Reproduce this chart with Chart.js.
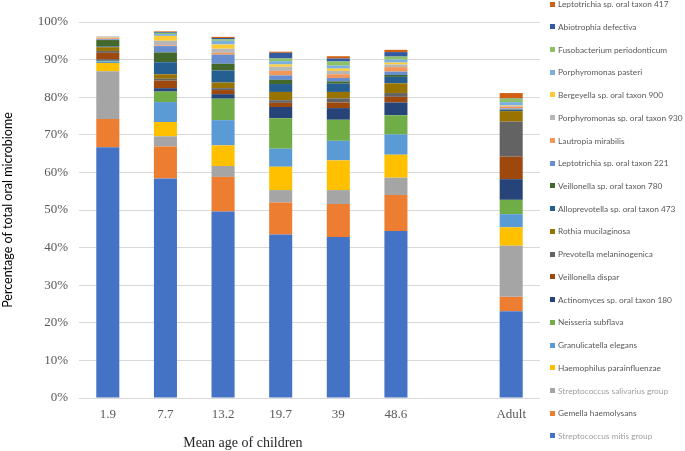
<!DOCTYPE html>
<html>
<head>
<meta charset="utf-8">
<script src="https://cdn.jsdelivr.net/npm/chart.js@4.4.0/dist/chart.umd.min.js"></script>
<style>
    body { margin: 0; background: #fff; }
    #wrap { position: relative; width: 685px; height: 451px; }
    #legend { position: absolute; left: 550px; top: -6.9px; font-family: Lato, sans-serif; font-size: 8.3px; }
    .item { height: 22.74px; line-height: 22.74px; white-space: nowrap; }
    .box { display: inline-block; width: 5px; height: 5px; margin-right: 3px; vertical-align: middle; position: relative; top: -1px; }
</style>
</head>
<body>
<div id="wrap">
    <canvas id="chart"></canvas>
    <div id="legend"></div>
</div>
<script>
// Categories (x axis), the blank one is the gap before Adult
const categories = ['1.9', '7.7', '13.2', '19.7', '39', '48.6', '', 'Adult'];

// Species, bottom of stack to top
const species = [
    'Streptococcus mitis group', 'Gemella haemolysans', 'Streptococcus salivarius group',
    'Haemophilus parainfluenzae', 'Granulicatella elegans', 'Neisseria subflava',
    'Actinomyces sp. oral taxon 180', 'Veillonella dispar', 'Prevotella melaninogenica',
    'Rothia mucilaginosa', 'Alloprevotella sp. oral taxon 473', 'Veillonella sp. oral taxon 780',
    'Leptotrichia sp. oral taxon 221', 'Lautropia mirabilis', 'Porphyromonas sp. oral taxon 930',
    'Bergeyella sp. oral taxon 900', 'Porphyromonas pasteri', 'Fusobacterium periodonticum',
    'Abiotrophia defectiva', 'Leptotrichia sp. oral taxon 417'
];

// Percentages per group, same order as species
const age1_9  = [66.7, 7.5, 12.7, 2.2, 0.4, 0.2, 0.3, 1.8, 0.5, 1.0, 0.2, 1.7, 0.2, 0.3, 0.1, 0.1, 0.05, 0.05, 0.05, 0.05];
const age7_7  = [58.4, 8.5, 2.7, 3.8, 5.3, 2.8, 0.9, 2.0, 0.5, 1.2, 3.2, 2.6, 1.7, 0.2, 1.2, 1.3, 0.5, 0.3, 0.2, 0.2];
const age13_2 = [49.6, 9.2, 2.9, 5.5, 6.7, 5.7, 1.2, 1.1, 0.5, 1.5, 3.2, 1.8, 2.4, 0.5, 1.1, 1.1, 1.0, 0.4, 0.35, 0.3];
const age19_7 = [43.5, 8.5, 3.3, 6.2, 4.8, 8.1, 3.0, 1.1, 0.7, 2.2, 2.1, 1.1, 1.2, 1.2, 1.1, 0.6, 0.9, 0.7, 1.5, 0.3];
const age39   = [42.8, 8.8, 3.7, 7.9, 5.2, 5.6, 3.1, 1.5, 1.1, 1.7, 2.2, 0.6, 0.9, 1.0, 0.9, 0.6, 0.8, 1.1, 0.8, 0.6];
const age48_6 = [44.4, 9.6, 4.6, 6.1, 5.4, 5.1, 3.4, 1.5, 1.0, 2.6, 1.7, 0.5, 0.9, 1.2, 0.7, 0.5, 0.8, 0.8, 1.2, 0.6];
const adult   = [23.1, 3.8, 13.6, 4.9, 3.5, 3.8, 5.5, 6.0, 9.3, 2.8, 0.3, 0.1, 0.3, 0.5, 0.2, 0.1, 0.9, 0.9, 0.1, 1.4];

const yTicks = [0, 10, 20, 30, 40, 50, 60, 70, 80, 90, 100];

const colors = [
    '#4472C4', '#ED7D31', '#A5A5A5', '#FFC000', '#5B9BD5', '#70AD47',
    '#264478', '#9E480E', '#636363', '#997300', '#255E91', '#43682B',
    '#698ED0', '#F1975A', '#B7B7B7', '#FFCD33', '#7CAFDD', '#8CC168',
    '#335AA1', '#D26012'
];
// legend text, two entries are greyed out in the original
const legendTextColors = species.map((s, i) => (i === 0 || i === 2) ? '#a0a0a0' : '#595959');

const groups = [age1_9, age7_7, age13_2, age19_7, age39, age48_6, null, adult];

const datasets = species.map((name, i) => ({
    label: name,
    data: groups.map(g => g ? g[i] : null),
    backgroundColor: colors[i],
    borderWidth: 0,
    barPercentage: 0.8,
    categoryPercentage: 0.5
}));

// x axis title sits under the children's bars only
const xTitlePlugin = {
    id: 'xTitle',
    afterDraw(chart) {
        const x = chart.scales.x;
        const ctx = chart.ctx;
        const cx = (x.getPixelForValue(0) + x.getPixelForValue(5)) / 2 - 9;
        ctx.save();
        ctx.font = '14px "Liberation Serif", serif';
        ctx.fillStyle = '#262626';
        ctx.textAlign = 'center';
        ctx.textBaseline = 'middle';
        ctx.fillText('Mean age of children', cx, 443);
        ctx.restore();
    }
};

const chart = new Chart(document.getElementById('chart'), {
    type: 'bar',
    data: { labels: categories, datasets: datasets },
    options: {
        responsive: true,
        maintainAspectRatio: false,
        animation: false,
        layout: { padding: { top: 22, right: 145, left: 0, bottom: 0 } },
        plugins: { legend: { display: false }, tooltip: { enabled: false } },
        scales: {
            x: {
                stacked: true,
                grid: { display: false, drawTicks: false },
                border: { display: false },
                ticks: { color: '#595959', font: { family: '"Liberation Serif", serif', size: 13 }, padding: 9 },
                afterFit(scale) { scale.height = 53; }
            },
            y: {
                stacked: true,
                min: 0,
                max: 100,
                afterBuildTicks(scale) { scale.ticks = yTicks.map(v => ({ value: v })); },
                grid: { color: '#d9d9d9', drawTicks: false },
                border: { display: false },
                ticks: {
                    color: '#595959',
                    font: { family: '"Liberation Serif", serif', size: 13 },
                    padding: 11,
                    callback: v => v + '%'
                },
                title: {
                    display: true,
                    text: 'Percentage of total oral microbiome',
                    color: '#000',
                    font: { family: 'Lato, sans-serif', size: 12.5 },
                    padding: 0
                },
                afterFit(scale) { scale.width = 79; }
            }
        }
    },
    plugins: [xTitlePlugin]
});

// HTML legend, top entry is the last dataset
const legendEl = document.getElementById('legend');
chart.data.datasets.slice().reverse().forEach((ds, k) => {
    const i = chart.data.datasets.length - 1 - k;
    const row = document.createElement('div');
    row.className = 'item';
    row.innerHTML = '<span class="box" style="background:' + ds.backgroundColor + '"></span>' +
        '<span style="color:' + legendTextColors[i] + '">' + ds.label + '</span>';
    legendEl.appendChild(row);
});
</script>
</body>
</html>
